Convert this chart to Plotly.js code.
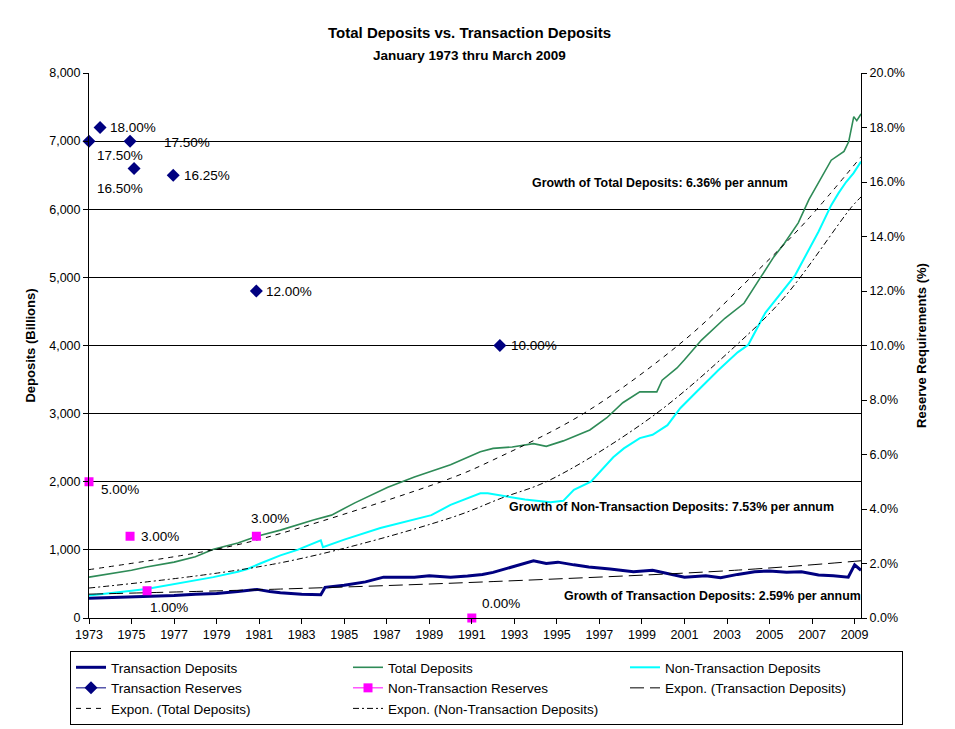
<!DOCTYPE html>
<html>
<head>
<meta charset="utf-8">
<script src="https://cdn.plot.ly/plotly-3.0.1.min.js"></script>
<style>html,body{margin:0;padding:0;background:#fff;}#chart{width:955px;height:729px;}</style>
</head>
<body>
<div id="chart"></div>
<script>
// ---- Data ----
const xTickVals = [1973,1975,1977,1979,1981,1983,1985,1987,1989,1991,1993,1995,1997,1999,2001,2003,2005,2007,2009];

const transX = [1973.0,1974.0,1975.0,1976.0,1977.0,1978.0,1979.0,1980.0,1980.9,1981.5,1982.0,1983.0,1983.9,1984.1,1985.0,1986.0,1986.85,1987.5,1988.3,1989.0,1990.0,1990.8,1991.5,1992.0,1993.0,1993.9,1994.5,1995.05,1995.8,1996.5,1997.5,1998.6,1999.5,2000.2,2001.0,2002.0,2002.7,2003.5,2004.3,2005.0,2005.8,2006.5,2007.3,2008.0,2008.7,2009.0,2009.3];
const transY = [290,300,300,310,330,350,360,390,420,390,370,350,340,450,480,530,600,600,600,620,600,615,640,670,760,840,800,820,780,750,720,680,700,650,600,620,590,640,680,690,670,680,630,620,600,780,700];

const totalX = [1973.0,1974.0,1975.0,1975.7,1977.0,1978.0,1978.85,1980.0,1980.9,1982.0,1983.55,1984.4,1985.5,1987.05,1988.3,1990.0,1991.4,1992.0,1992.9,1993.9,1994.5,1995.3,1996.55,1997.35,1998.1,1998.9,1999.7,1999.95,2000.65,2001.0,2001.8,2002.9,2003.8,2004.6,2005.2,2005.7,2006.35,2006.85,2007.9,2008.5,2008.72,2008.96,2009.1,2009.3];
const totalY = [600,650,700,750,820,900,1010,1100,1200,1290,1440,1510,1690,1920,2070,2250,2440,2490,2510,2560,2520,2600,2760,2940,3160,3320,3320,3490,3670,3790,4080,4400,4620,5010,5300,5500,5800,6140,6720,6850,6990,7360,7300,7400];

const nonTransX = [1973.0,1974.0,1975.0,1975.7,1977.0,1978.0,1978.85,1980.0,1980.45,1981.05,1982.0,1982.8,1983.9,1984.0,1985.0,1986.7,1988.0,1989.1,1990.0,1991.4,1991.75,1992.4,1993.5,1994.7,1995.3,1995.8,1996.6,1997.65,1998.15,1998.9,1999.5,2000.2,2000.8,2001.5,2002.6,2003.5,2004.0,2004.8,2005.5,2006.2,2007.3,2007.9,2008.25,2008.6,2008.95,2009.3];
const nonTransY = [330,370,400,425,500,560,600,680,720,800,920,1000,1140,1040,1150,1320,1420,1510,1660,1830,1830,1800,1740,1700,1720,1880,2000,2360,2490,2640,2690,2830,3080,3300,3640,3900,4010,4480,4760,5030,5670,6060,6240,6400,6530,6700];

// Exponential trend lines
const trendTransX = [1973.0,1982.0,1992.0,2003.35,2009.3];
const trendTransY = [350,425,535,700,840];
const trendTotalX = [1973.0,1979.0,1982.0,1990.0,1992.0,1996.3,2001.0,2004.15,2006.65,2009.3];
const trendTotalY = [710,1010,1240,2050,2320,3010,4080,5010,5800,6770];
const trendNonTransX = [1973.0,1982.0,1990.0,1992.4,1994.7,1999.45,2003.35,2005.7,2008.85,2009.3];
const trendNonTransY = [440,810,1470,1760,2030,2950,3980,4710,6030,6180];

// Reserve requirements (fractions)
const transResX = [1973.0,1973.52,1974.93,1975.12,1976.96,1980.87,1992.32];
const transResY = [0.175,0.18,0.175,0.165,0.1625,0.12,0.10];
const nonTransResX = [1973.0,1974.93,1975.73,1980.87,1991.0];
const nonTransResY = [0.05,0.03,0.01,0.03,0.0];

// label offsets in pixels (style only)
const transResOffsets = [[31,-14],[33,0],[57,-1],[-14,-20],[34,0],[33,0],[34,0]];
const nonTransResOffsets = [[31,-8],[30,0],[22,-17],[14,18],[29,15]];

const FONT = 'Liberation Sans, Arial, sans-serif';
const fmtPct = v => (v*100).toFixed(2) + '%';

const traces = [
  {x: transX, y: transY, name: 'Transaction Deposits', mode: 'lines', line: {color: '#000080', width: 3}},
  {x: totalX, y: totalY, name: 'Total Deposits', mode: 'lines', line: {color: '#2E8B57', width: 1.6}},
  {x: nonTransX, y: nonTransY, name: 'Non-Transaction Deposits', mode: 'lines', line: {color: '#00FFFF', width: 2}},
  // legend-only entries for reserves (line + marker look)
  {x: [null], y: [null], name: 'Transaction Reserves', mode: 'lines+markers', yaxis: 'y2',
   line: {color: '#000080', width: 1}, marker: {symbol: 'diamond', size: 10, color: '#000080'}},
  {x: [null], y: [null], name: 'Non-Transaction Reserves', mode: 'lines+markers', yaxis: 'y2',
   line: {color: '#FF00FF', width: 1}, marker: {symbol: 'square', size: 9, color: '#FF00FF'}},
  {x: trendTransX, y: trendTransY, name: 'Expon. (Transaction Deposits)', mode: 'lines',
   line: {color: '#000000', width: 1, dash: '14px,6px', shape: 'spline'}},
  {x: trendTotalX, y: trendTotalY, name: 'Expon. (Total Deposits)', mode: 'lines',
   line: {color: '#000000', width: 1, dash: '5px,5px', shape: 'spline'}},
  {x: trendNonTransX, y: trendNonTransY, name: 'Expon. (Non-Transaction Deposits)', mode: 'lines',
   line: {color: '#000000', width: 1, dash: '6px,3px,2px,3px', shape: 'spline'}},
  {x: transResX, y: transResY, name: 'Transaction Reserves', showlegend: false, mode: 'markers', yaxis: 'y2',
   cliponaxis: false, marker: {symbol: 'diamond', size: 10, color: '#000080'}},
  {x: nonTransResX, y: nonTransResY, name: 'Non-Transaction Reserves', showlegend: false, mode: 'markers', yaxis: 'y2',
   cliponaxis: false, marker: {symbol: 'square', size: 9, color: '#FF00FF'}}
];

const annotations = [];
transResX.forEach((x, i) => annotations.push({
  x: x, y: transResY[i], xref: 'x', yref: 'y2', text: fmtPct(transResY[i]), showarrow: false,
  xanchor: 'center', yanchor: 'middle',
  xshift: transResOffsets[i][0], yshift: transResOffsets[i][1], font: {family: FONT, size: 13.5, color: '#000'}
}));
nonTransResX.forEach((x, i) => annotations.push({
  x: x, y: nonTransResY[i], xref: 'x', yref: 'y2', text: fmtPct(nonTransResY[i]), showarrow: false,
  xanchor: 'center', yanchor: 'middle',
  xshift: nonTransResOffsets[i][0], yshift: nonTransResOffsets[i][1], font: {family: FONT, size: 13.5, color: '#000'}
}));
const note = (x, y, text, size) => ({xref: 'paper', yref: 'paper', x: x, y: y, text: text, showarrow: false,
  xanchor: 'center', yanchor: 'middle', font: {family: FONT, size: size, color: '#000'}});
annotations.push(
  note(0.4935, 1.0734, '<b>Total Deposits vs. Transaction Deposits</b>', 15),
  note(0.4935, 1.0312, '<b>January 1973 thru March 2009</b>', 13.5),
  note(0.7396, 0.798, '<b>Growth of Total Deposits: 6.36% per annum</b>', 12.4),
  note(0.755, 0.2037, '<b>Growth of Non-Transaction Deposits: 7.53% per annum</b>', 12.4),
  note(0.807, 0.0404, '<b>Growth of Transaction Deposits: 2.59% per annum</b>', 12.4)
);

const layout = {
  width: 955, height: 729,
  margin: {l: 89, r: 94, t: 73, b: 111, pad: 0, autoexpand: false},
  paper_bgcolor: '#fff', plot_bgcolor: '#fff',
  font: {family: FONT, size: 12, color: '#000'},
  showlegend: true,
  xaxis: {
    range: [1973, 2009.3], tickvals: xTickVals, ticktext: xTickVals.map(String),
    ticks: 'outside', ticklen: 5, tickcolor: '#000', showline: true, linecolor: '#000', linewidth: 1,
    showgrid: false, zeroline: false, tickfont: {family: FONT, size: 12.5}
  },
  yaxis: {
    range: [0, 8000], dtick: 1000, tickformat: ',d', ticks: 'outside', ticklen: 5, tickcolor: '#000',
    showline: true, linecolor: '#000', showgrid: true, gridcolor: '#000', gridwidth: 1, zeroline: false,
    title: {text: '<b>Deposits (Billions)</b>', font: {family: FONT, size: 13}, standoff: 10},
    tickfont: {family: FONT, size: 12.5}
  },
  yaxis2: {
    range: [0, 0.2], dtick: 0.02, tickformat: '.1%', overlaying: 'y', side: 'right',
    ticks: 'outside', ticklen: 5, tickcolor: '#000', showline: true, linecolor: '#000',
    showgrid: false, zeroline: false,
    title: {text: '<b>Reserve Requirements (%)</b>', font: {family: FONT, size: 13}, standoff: 12},
    tickfont: {family: FONT, size: 12.5}
  },
  legend: {
    orientation: 'h', xref: 'paper', yref: 'paper', x: -0.0246, y: -0.0606, xanchor: 'left', yanchor: 'top',
    entrywidth: 232, entrywidthmode: 'pixels', bordercolor: '#000', borderwidth: 1, bgcolor: '#fff',
    font: {family: FONT, size: 13.5, color: '#000'}, traceorder: 'normal'
  },
  annotations: annotations
};

Plotly.newPlot('chart', traces, layout, {displayModeBar: false, staticPlot: true});
</script>
</body>
</html>
